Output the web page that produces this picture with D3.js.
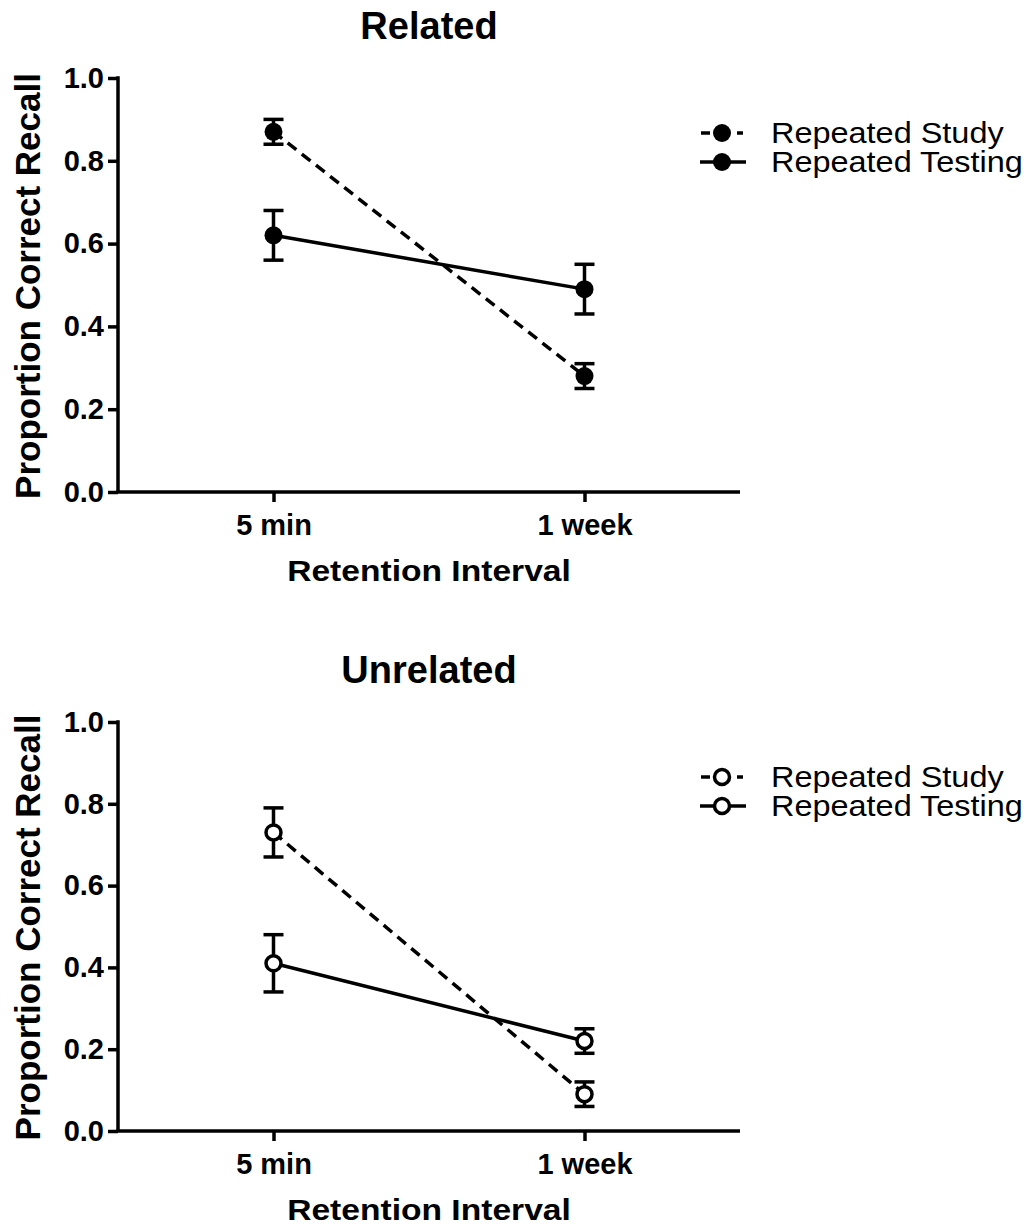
<!DOCTYPE html>
<html>
<head>
<meta charset="utf-8">
<script src="https://cdn.jsdelivr.net/npm/d3@7"></script>
<style>
  body { margin: 0; background: #fff; }
  svg text { font-family: "Liberation Sans", Arial, sans-serif; fill: #000; }
</style>
</head>
<body>
<div id="chart"></div>
<script>
// data
const intervals = ["5 min", "1 week"];
const yTicks = [0.0, 0.2, 0.4, 0.6, 0.8, 1.0];
const seriesNames = ["Repeated Study", "Repeated Testing"];

const relatedStudy = [0.87, 0.28];
const relatedStudyErr = [0.03, 0.03];
const relatedTesting = [0.62, 0.49];
const relatedTestingErr = [0.06, 0.06];

const unrelatedStudy = [0.73, 0.09];
const unrelatedStudyErr = [0.06, 0.03];
const unrelatedTesting = [0.41, 0.22];
const unrelatedTestingErr = [0.07, 0.03];

const panels = [
    { title: "Related", top: 78, h: 414, filled: true,
      series: [
        { name: seriesNames[0], values: relatedStudy, err: relatedStudyErr, dashed: true },
        { name: seriesNames[1], values: relatedTesting, err: relatedTestingErr, dashed: false }
      ] },
    { title: "Unrelated", top: 722, h: 409, filled: false,
      series: [
        { name: seriesNames[0], values: unrelatedStudy, err: unrelatedStudyErr, dashed: true },
        { name: seriesNames[1], values: unrelatedTesting, err: unrelatedTestingErr, dashed: false }
      ] }
];

const width = 1035, height = 1224;
const svg = d3.select("#chart").append("svg")
    .attr("width", width)
    .attr("height", height);

const left = 118, right = 740;
const sw = 3.5;

panels.forEach(p => {
    const plotH = p.h;
    const g = svg.append("g").attr("transform", `translate(0,${p.top})`);

    const x = d3.scalePoint().domain(intervals).range([left, right]).padding(0.5);
    const y = d3.scaleLinear().domain([0, 1]).range([plotH, 0]);

    // axes
    const yAxis = g.append("g")
        .attr("transform", `translate(${left},0)`)
        .call(d3.axisLeft(y).tickValues(yTicks).tickFormat(d3.format(".1f")).tickSizeOuter(0).tickSize(10).tickPadding(4));
    const xAxis = g.append("g")
        .attr("transform", `translate(0,${plotH})`)
        .call(d3.axisBottom(x).tickSizeOuter(0).tickSize(10).tickPadding(12));
    [yAxis, xAxis].forEach(a => {
        a.selectAll("path, line").attr("stroke", "#000").attr("stroke-width", sw);
        a.selectAll("text").attr("font-size", 29).attr("font-weight", "bold")
            .attr("font-family", "'Liberation Sans', Arial, sans-serif").attr("fill", "#000");
    });
    xAxis.select(".domain").attr("d", `M${left - sw / 2},0H${right}`);
    yAxis.select(".domain").attr("d", `M0,${plotH}V${-sw / 2}`);

    // titles
    g.append("text")
        .attr("x", (left + right) / 2).attr("y", -39)
        .attr("text-anchor", "middle")
        .attr("font-size", 38).attr("font-weight", "bold")
        .text(p.title);
    g.append("text")
        .attr("transform", `translate(${(left + right) / 2},${plotH + 89}) scale(1.12,1)`)
        .attr("text-anchor", "middle")
        .attr("font-size", 30).attr("font-weight", "bold")
        .text("Retention Interval");
    g.append("text")
        .attr("transform", `translate(40,${plotH / 2 + 1}) rotate(-90)`)
        .attr("text-anchor", "middle")
        .attr("font-size", 35).attr("font-weight", "bold")
        .text("Proportion Correct Recall");

    const line = d3.line().x((d, i) => x(intervals[i])).y(d => y(d));

    p.series.forEach(s => {
        g.append("path")
            .datum(s.values)
            .attr("fill", "none")
            .attr("stroke", "#000")
            .attr("stroke-width", sw)
            .attr("stroke-dasharray", s.dashed ? "11,7" : null)
            .attr("d", line);

        const eb = g.append("g");
        s.values.forEach((v, i) => {
            const cx = x(intervals[i]);
            const lo = y(v - s.err[i]), hi = y(v + s.err[i]);
            eb.append("line").attr("x1", cx).attr("x2", cx).attr("y1", lo).attr("y2", hi)
                .attr("stroke", "#000").attr("stroke-width", sw);
            [lo, hi].forEach(yy => {
                eb.append("line").attr("x1", cx - 10).attr("x2", cx + 10).attr("y1", yy).attr("y2", yy)
                    .attr("stroke", "#000").attr("stroke-width", sw);
            });
        });

        g.selectAll(null)
            .data(s.values)
            .enter().append("circle")
            .attr("cx", (d, i) => x(intervals[i]))
            .attr("cy", d => y(d))
            .attr("r", p.filled ? 9 : 7.5)
            .attr("fill", p.filled ? "#000" : "#fff")
            .attr("stroke", "#000")
            .attr("stroke-width", p.filled ? 0 : sw);
    });

    // legend
    const lg = g.append("g").attr("transform", `translate(700,55)`);
    p.series.forEach((s, i) => {
        const row = lg.append("g").attr("transform", `translate(0,${i * 29})`);
        if (s.dashed) {
            row.append("line").attr("x1", 1).attr("x2", 10).attr("y1", 0).attr("y2", 0)
                .attr("stroke", "#000").attr("stroke-width", sw);
            row.append("line").attr("x1", 37).attr("x2", 43).attr("y1", 0).attr("y2", 0)
                .attr("stroke", "#000").attr("stroke-width", sw);
        } else {
            row.append("line").attr("x1", 0).attr("x2", 46).attr("y1", 0).attr("y2", 0)
                .attr("stroke", "#000").attr("stroke-width", sw);
        }
        row.append("circle").attr("cx", 22).attr("cy", 0)
            .attr("r", p.filled ? 9 : 7.5)
            .attr("fill", p.filled ? "#000" : "#fff")
            .attr("stroke", "#000")
            .attr("stroke-width", p.filled ? 0 : sw);
        row.append("text")
            .attr("transform", "translate(71,10) scale(1.1,1)")
            .attr("font-size", 29.5)
            .text(s.name);
    });
});
</script>
</body>
</html>
